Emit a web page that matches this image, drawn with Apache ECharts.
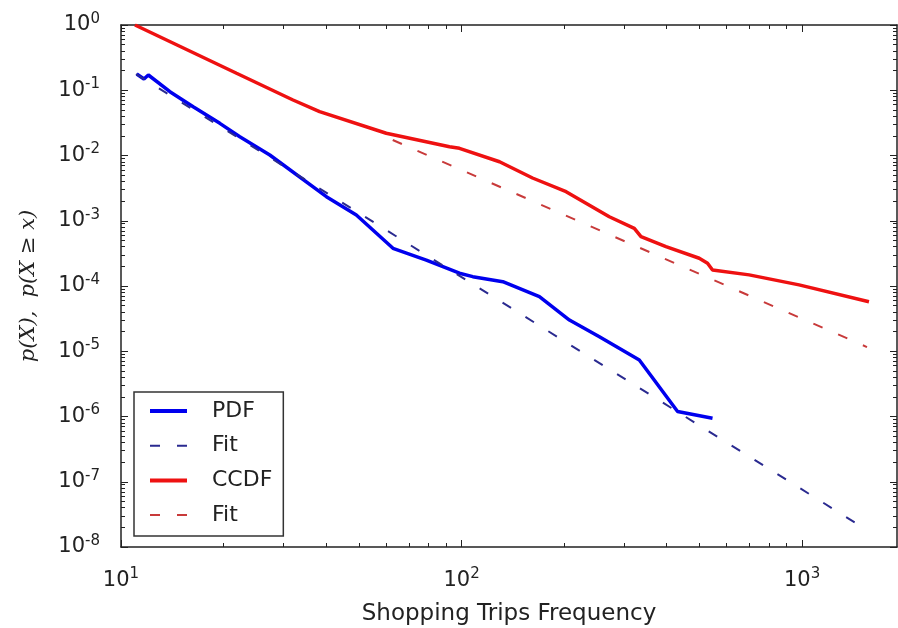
<!DOCTYPE html>
<html><head><meta charset="utf-8">
<script src="https://cdn.jsdelivr.net/npm/echarts@6/dist/echarts.min.js"></script>
<style>html,body{margin:0;padding:0;background:#fff}#c{width:898px;height:628px}</style>
</head><body><div id="c"></div>
<script>
// ---- data ----
const pdfX = [11.12, 11.68, 12.03, 13.92, 16.29, 19.51, 22.33, 27.35, 40.1, 49.1, 62.9, 78.8, 98.6, 107.9, 132.2, 169.3, 207.4, 254, 332.7, 430.9, 545.8];
const pdfY = [0.1775, 0.1487, 0.1713, 0.0951, 0.056, 0.0311, 0.0194, 0.01018, 0.00234, 0.001225, 0.000378, 0.00025, 0.000157, 0.000139, 0.0001164, 6.86e-5, 3.01e-5, 1.67e-5, 7.35e-6, 1.19e-6, 9.38e-7];
const ccdfX = [10.99, 21.84, 32.0, 38.3, 60.1, 92.2, 98.6, 129.3, 161.6, 202.8, 271.6, 321.6, 336.5, 398.4, 498.9, 527.7, 545.8, 699.2, 979.9, 1572];
const ccdfY = [1.0, 0.182, 0.0709, 0.0469, 0.0219, 0.01364, 0.01289, 0.00803, 0.00452, 0.00279, 0.001153, 0.000766, 0.00057, 0.0004, 0.000266, 0.000223, 0.000176, 0.000148, 0.000104, 5.75e-5];
const pdfFitX = [11.07, 1500];
const pdfFitY = [0.1775, 2.03e-8];
const ccdfFitX = [62.8, 1551];
const ccdfFitY = [0.01728, 1.16e-5];

const legendNames = ['PDF', 'Fit', 'CCDF', 'Fit '];
const xTitle = 'Shopping Trips Frequency';
const yTitle = 'p(X),  p(X \u2265 x)';

const xMajorTicks = [10, 100, 1000];
const xMinorTicks = [20, 30, 40, 50, 60, 70, 80, 90, 200, 300, 400, 500, 600, 700, 800, 900];
const yMajorTicks = [1e-8, 1e-7, 1e-6, 1e-5, 1e-4, 1e-3, 1e-2, 1e-1, 1];
const minorMantissas = [2, 3, 4, 5, 6, 7, 8, 9];
const yMinorTicks = [];
for (let e = -8; e < 0; e++) for (const m of minorMantissas) yMinorTicks.push(m * Math.pow(10, e));

const X_MIN = 10, X_MAX = 1900, Y_MIN = 1e-8, Y_MAX = 1;

function zip(a, b) { return a.map((v, i) => [v, b[i]]); }
function powLabel(v) {
  const e = Math.round(Math.log10(v));
  return '{b|10}{s|' + e + '}';
}
const axisColor = '#222';
const richLbl = {
  b: { fontSize: 21, fontFamily: 'DejaVu Sans', color: '#222' },
  s: { fontSize: 15, fontFamily: 'DejaVu Sans', color: '#222', padding: [0, 0, 12, 0] }
};

function xAx(pos, major, showLine) {
  return {
    type: 'log', logBase: 10, min: X_MIN, max: X_MAX, position: pos,
    axisLine: { show: showLine, lineStyle: { color: axisColor, width: 1.5 } },
    axisTick: { show: true, inside: true, length: major ? 7 : 4, customValues: major ? xMajorTicks : xMinorTicks, lineStyle: { color: axisColor, width: 1 } },
    axisLabel: { show: false },
    splitLine: { show: false }, minorTick: { show: false }, minorSplitLine: { show: false }
  };
}
function yAx(pos, major, showLine) {
  return {
    type: 'log', logBase: 10, min: Y_MIN, max: Y_MAX, position: pos,
    axisLine: { show: showLine, lineStyle: { color: axisColor, width: 1.5 } },
    axisTick: { show: true, inside: true, length: major ? 7 : 4, customValues: major ? yMajorTicks : yMinorTicks, lineStyle: { color: axisColor, width: 1 } },
    axisLabel: { show: false },
    splitLine: { show: false }, minorTick: { show: false }, minorSplitLine: { show: false }
  };
}

const xMain = xAx('bottom', true, true);
xMain.axisLabel = { show: true, customValues: xMajorTicks, formatter: powLabel, rich: richLbl, margin: 20 };
xMain.name = xTitle;
xMain.nameLocation = 'middle';
xMain.nameGap = 56;
xMain.nameTextStyle = { fontSize: 23, fontFamily: 'DejaVu Sans', color: '#222' };

const yMain = yAx('left', true, true);
yMain.axisLabel = { show: true, customValues: yMajorTicks, formatter: powLabel, rich: richLbl, margin: 21 };
yMain.name = yTitle;
yMain.nameLocation = 'middle';
yMain.nameRotate = 90;
yMain.nameGap = 82;
yMain.nameTextStyle = { fontSize: 21, fontFamily: 'DejaVu Serif', fontStyle: 'italic', color: '#222' };

const chart = echarts.init(document.getElementById('c'), null, { renderer: 'canvas' });
chart.setOption({
  animation: false,
  backgroundColor: '#fff',
  grid: { left: 121, right: 1, top: 25, bottom: 81, containLabel: false, outerBoundsMode: 'none' },
  xAxis: [xMain, xAx('bottom', false, false), xAx('top', true, true), xAx('top', false, false)],
  yAxis: [yMain, yAx('left', false, false), yAx('right', true, true), yAx('right', false, false)],
  legend: {
    data: [
      { name: legendNames[0], lineStyle: { width: 4 } },
      { name: legendNames[1], lineStyle: { width: 2 } },
      { name: legendNames[2], lineStyle: { width: 4 } },
      { name: legendNames[3], lineStyle: { width: 2 } }
    ],
    orient: 'vertical', left: 134, top: 392,
    backgroundColor: '#fff', borderColor: '#333', borderWidth: 1.5, borderRadius: 0,
    padding: [8, 11, 10, 14], itemWidth: 37, itemHeight: 14, itemGap: 12.7,
    itemStyle: { opacity: 0 },
    textStyle: { fontSize: 22, fontFamily: 'DejaVu Sans', color: '#222', padding: [0, 0, 0, 20] }
  },
  series: [
    { name: legendNames[0], type: 'line', data: zip(pdfX, pdfY), symbol: 'none', color: '#0000ee', lineStyle: { width: 3.5, color: '#0000ee' }, z: 3 },
    { name: legendNames[1], type: 'line', data: zip(pdfFitX, pdfFitY), symbol: 'none', color: '#2a2a90', lineStyle: { width: 2, color: '#2a2a90', type: [10, 17] }, z: 4 },
    { name: legendNames[2], type: 'line', data: zip(ccdfX, ccdfY), symbol: 'none', color: '#ee1111', lineStyle: { width: 3.5, color: '#ee1111' }, z: 3 },
    { name: legendNames[3], type: 'line', data: zip(ccdfFitX, ccdfFitY), symbol: 'none', color: '#c83a3a', lineStyle: { width: 2, color: '#c83a3a', type: [10, 17] }, z: 4 }
  ]
});
</script></body></html>
